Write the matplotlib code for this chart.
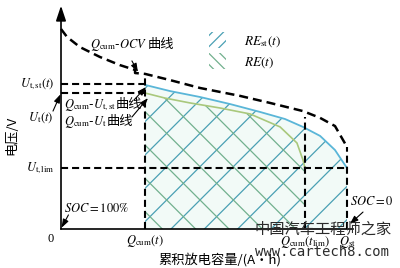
import matplotlib
matplotlib.use("Agg")
import matplotlib.pyplot as plt
from matplotlib.patches import Patch
import numpy as np

plt.rcParams['mathtext.fontset'] = 'stix'
plt.rcParams['hatch.linewidth'] = 0.9

# ---------------- data (schematic units) ----------------
Q_t = 29.4      # Q_cum(t)
Q_lim = 85.3    # Q_cum(t_lim)
Q_st = 100.0    # Q_st
U_st = 65.9     # U_t,st(t)
U_t = 61.8      # U_t(t)
U_lim = 27.7    # U_t,lim
Q_lim_top = 51.0

ocv_x = [0, 2.1, 6.6, 13.6, 20.6, 25.9, 25.9, 29.4, 38.1, 48.6, 62.6, 73.1, 84.6, 90.6, 95.8, 100.0]
ocv_y = [90.9, 87.3, 82.7, 78.2, 74.5, 72.3, 70.9, 70.5, 67.7, 64.1, 60.5, 57.3, 53.6, 50.5, 46.8, 37.3]

ust_x = [29.4, 38.1, 48.6, 59.1, 69.6, 78.3, 84.6, 90.6, 95.8, 100.0]
ust_y = [65.5, 62.7, 60.0, 56.8, 53.2, 50.0, 46.4, 42.3, 35.9, 27.7]

ut_x = [29.4, 36.4, 45.1, 55.6, 66.1, 76.6, 82.5, 84.6, 85.3]
ut_y = [61.8, 59.5, 57.3, 55.0, 52.3, 46.4, 39.1, 31.4, 27.7]

legend_labels = [r'$RE_{\rm st}(t)$', r'$RE(t)$']

# ---------------- figure ----------------
fig = plt.figure(figsize=(4.0, 2.68), dpi=100)
ax = fig.add_axes([0, 0, 1, 1])
ax.set_xlim(-21.33, 118.53)
ax.set_ylim(-17.73, 104.09)
ax.axis('off')

teal = '#4aa0b4'
green_h = '#72b08e'
blue_line = '#5ab6d8'
green_line = '#a9c87c'

# pale fill + hatches
ax.fill_between(ust_x, ust_y, 0, facecolor='#f2faf7', edgecolor='none', linewidth=0, zorder=1)
ax.fill_between(ust_x, ust_y, 0, facecolor='none', edgecolor=teal, hatch='/', linewidth=0, zorder=2)
ax.fill_between(ut_x, ut_y, 0, facecolor='none', edgecolor=green_h, hatch='\\', linewidth=0, zorder=2)

# curves
ax.plot(ust_x, ust_y, color=blue_line, lw=1.3, zorder=4)
ax.plot(ut_x, ut_y, color=green_line, lw=1.2, zorder=4)

dash_kw = dict(color='black', lw=1.5, dashes=(3.4, 1.9), zorder=5)
ax.plot(ocv_x, ocv_y, color='black', lw=1.8, dashes=(3.6, 2.0), zorder=5)

# guide lines
ax.plot([0, Q_t], [U_st, U_st], **dash_kw)
ax.plot([0, Q_t], [U_t, U_t], **dash_kw)
ax.plot([0, Q_st], [U_lim, U_lim], **dash_kw)
ax.plot([Q_t, Q_t], [0, ocv_y[7]], **dash_kw)
ax.plot([Q_lim, Q_lim], [0, Q_lim_top], **dash_kw)
ax.plot([Q_st, Q_st], [0, ocv_y[-1]], **dash_kw)

# axes
ax.plot([0, 102], [0, 0], color='black', lw=1.2, zorder=6)
ax.annotate('', xy=(0, 101.5), xytext=(0, 0),
            arrowprops=dict(arrowstyle='-|>,head_length=0.9,head_width=0.3',
                            color='black', lw=1.2, shrinkA=0, shrinkB=0), zorder=6)

serif = 'Liberation Serif'
cjk = 'Noto Sans CJK SC'
fs = 9

def arrow(x0, y0, x1, y1):
    ax.annotate('', xy=(x1, y1), xytext=(x0, y0),
                arrowprops=dict(arrowstyle='-|>,head_length=0.5,head_width=0.18',
                                color='black', lw=0.8, shrinkA=0, shrinkB=0), zorder=7)

# compound labels: math part + Chinese "曲线"
comp = []
comp.append(ax.text(10.1, 82.3, r'$Q_{\rm cum}$-$OCV$', fontsize=fs, va='baseline', ha='left'))
comp.append(ax.text(0.9, 55.0, r'$Q_{\rm cum}$-$U_{\rm t,st}$', fontsize=fs, va='baseline', ha='left'))
comp.append(ax.text(0.9, 47.3, r'$Q_{\rm cum}$-$U_{\rm t}$', fontsize=fs, va='baseline', ha='left'))
fig.canvas.draw()
r = fig.canvas.get_renderer()
for t in comp:
    bb = t.get_window_extent(r)
    xd, yd = ax.transData.transform(t.get_position())
    ax.text(bb.x1 + 0.3, yd, '曲线', fontsize=fs + 0.5, family=cjk, va='baseline', ha='left',
            transform=None)

arrow(24.8, 76.4, 26.9, 71.4)
arrow(25.5, 58.6, 29.7, 64.5)
arrow(24.8, 50.9, 30.4, 59.5)

# y tick-like labels
ax.text(-2.1, U_st, r'$U_{\rm t,st}(t)$', fontsize=fs, ha='right', va='center')
ax.text(-2.6, 50.5, r'$U_{\rm t}(t)$', fontsize=fs, ha='right', va='center')
arrow(-2.8, 53.6, -0.2, 61.2)
ax.text(-2.1, U_lim, r'$U_{\rm t,lim}$', fontsize=fs, ha='right', va='center')

ax.text(0.9, 9.1, r'$SOC\mathrm{=100\%}$', fontsize=fs, ha='left', va='center')
arrow(2.6, 6.4, 0.2, 0.6)
ax.text(101.0, 12.3, r'$SOC\mathrm{=0}$', fontsize=fs, ha='left', va='center')
arrow(105.6, 7.7, 101.0, 2.3)

# x tick-like labels
ax.text(-3.8, -4.5, '0', fontsize=fs, family=serif, ha='center', va='center')
ax.text(Q_t, -5.6, r'$Q_{\rm cum}(t)$', fontsize=fs, ha='center', va='center')
ax.text(Q_lim, -5.9, r'$Q_{\rm cum}(t_{\rm lim})$', fontsize=fs, ha='center', va='center')
ax.text(Q_st, -5.9, r'$Q_{\rm st}$', fontsize=fs, ha='center', va='center')

# axis titles
ax.text(55.6, -14.1, '累积放电容量/(A·h)', fontsize=fs + 0.5, family=[cjk, 'DejaVu Sans'],
        ha='center', va='center')
ax.text(-17.1, 42.7, '电压/V', fontsize=fs + 0.5, family=cjk, rotation=90,
        ha='center', va='center')

# legend
handles = [Patch(facecolor='none', edgecolor=teal, hatch='///', linewidth=0),
           Patch(facecolor='none', edgecolor=green_h, hatch='\\\\\\', linewidth=0)]
ax.legend(handles, legend_labels, loc='center left', bbox_to_anchor=(0.51, 0.81),
          frameon=False, fontsize=fs + 0.5, handlelength=1.3, handleheight=1.5,
          labelspacing=0.3, handletextpad=1.3, borderaxespad=0)

# watermark
ax.text(67.8, 0.0, '中国汽车工程师之家', fontsize=11, family=cjk, color='#2b2b2b',
        ha='left', va='center', zorder=8)
ax.text(67.8, -10.5, 'www.cartech8.com', fontsize=10, family='DejaVu Sans Mono',
        color='#2b2b2b', ha='left', va='center', zorder=8)

fig.savefig('out.png', dpi=100)
